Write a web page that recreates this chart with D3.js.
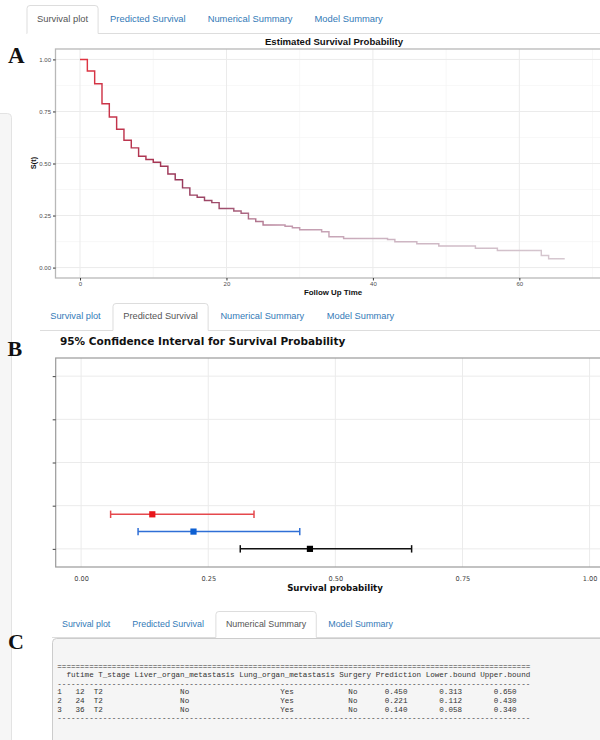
<!DOCTYPE html>
<html>
<head>
<meta charset="utf-8">
<script src="https://cdn.jsdelivr.net/npm/d3@7"></script>
<style>
body { margin: 0; background: #fff; }
svg { display: block; }
</style>
</head>
<body>
<svg id="fig" width="600" height="740"></svg>
<script>
// Kaplan-Meier steps
var kmTime = [0, 1, 2, 3, 4, 5, 6, 7, 8, 9, 10, 11, 12, 13, 14, 15, 16, 17, 18, 19, 21, 22, 23, 24, 25, 28, 29, 30, 33, 34, 36, 42, 43, 46, 49, 54, 57, 63, 64];
var kmSurv = [1.000, 0.944, 0.883, 0.787, 0.723, 0.665, 0.612, 0.575, 0.535, 0.519, 0.506, 0.487, 0.450, 0.422, 0.383, 0.348, 0.338, 0.322, 0.312, 0.284, 0.272, 0.261, 0.234, 0.221, 0.205, 0.199, 0.191, 0.182, 0.172, 0.148, 0.140, 0.135, 0.124, 0.115, 0.104, 0.093, 0.082, 0.058, 0.042];
var kmEnd = 66.2;
var kmXTicks = [0, 20, 40, 60];
var kmYTicks = [0, 0.25, 0.5, 0.75, 1];

// predictions (panel B and C)
var futime = [12, 24, 36];
var tStage = ["T2", "T2", "T2"];
var liverMet = ["No", "No", "No"];
var lungMet = ["Yes", "Yes", "Yes"];
var surgery = ["No", "No", "No"];
var prediction = [0.450, 0.221, 0.140];
var lowerBound = [0.313, 0.112, 0.058];
var upperBound = [0.650, 0.430, 0.340];
var ciXTicks = [0, 0.25, 0.5, 0.75, 1];
var ciYTicks = [1, 2, 3, 4, 5];

var tabNames = ["Survival plot", "Predicted Survival", "Numerical Summary", "Model Summary"];
var tableCols = ["futime", "T_stage", "Liver_organ_metastasis", "Lung_organ_metastasis", "Surgery", "Prediction", "Lower.bound", "Upper.bound"];

var ciLine = ["#111111", "#2f6fd6", "#e5484d"];
var ciFill = ["#000000", "#0d5fd2", "#e8161b"];

var SANS = "Liberation Sans, Arial, Helvetica, sans-serif";
var DEJA = "DejaVu Sans, Verdana, sans-serif";

var svg = d3.select("#fig");
svg.append("rect").attr("width", 600).attr("height", 740).attr("fill", "#fff");

// left sidebar well
svg.append("rect")
    .attr("x", -6).attr("y", 113.5).attr("width", 17.5).attr("height", 660).attr("rx", 4)
    .attr("fill", "#f6f6f6").attr("stroke", "#e3e3e3");

function drawTabs(cfg) {
    var g = svg.append("g");
    var lineG = g.append("g");
    var x = cfg.left, tabs = [];
    tabNames.forEach(function(name, i) {
        var t = g.append("text").text(name)
            .attr("font-family", SANS).attr("font-size", cfg.size)
            .attr("x", x + cfg.pad).attr("y", cfg.baseline)
            .attr("fill", i == cfg.active ? "#555" : "#337ab7");
        var w = t.node().getComputedTextLength();
        tabs.push({x0: x, x1: x + w + 2 * cfg.pad});
        x += w + 2 * cfg.pad + 2;
    });
    var a = tabs[cfg.active], b = cfg.bottom + 0.5, t = cfg.top + 0.5, r = 3;
    lineG.append("line").attr("x1", cfg.left).attr("x2", 600).attr("y1", b).attr("y2", b)
        .attr("stroke", "#dddddd");
    lineG.append("path")
        .attr("d", "M" + a.x0 + "," + (b + 0.5) + "V" + (t + r) + "Q" + a.x0 + "," + t + " " + (a.x0 + r) + "," + t +
            "H" + (a.x1 - r) + "Q" + a.x1 + "," + t + " " + a.x1 + "," + (t + r) + "V" + (b + 0.5))
        .attr("fill", "#fff").attr("stroke", "#dddddd");
    lineG.append("line").attr("x1", a.x0 + 0.5).attr("x2", a.x1 - 0.5).attr("y1", b).attr("y2", b)
        .attr("stroke", "#fff").attr("stroke-width", 1.2);
}

function panelLabel(txt, x, y, size) {
    svg.append("text").text(txt).attr("x", x).attr("y", y)
        .attr("font-family", "Liberation Serif, Times New Roman, serif")
        .attr("font-weight", "bold").attr("font-size", size).attr("fill", "#111");
}

// ---------------- panel A ----------------
drawTabs({left: 27, top: 5, bottom: 33, baseline: 22, size: 9.4, pad: 10, active: 0});
panelLabel("A", 8, 63, 23);

var kmX = d3.scaleLinear().domain([-3.35, 71.7]).range([55.5, 605]);
var kmY = d3.scaleLinear().domain([-0.05, 1.05]).range([278, 49]);

var defs = svg.append("defs");
defs.append("clipPath").attr("id", "clipA").append("rect")
    .attr("x", 55.5).attr("y", 49).attr("width", 550).attr("height", 229);

var grad = defs.append("linearGradient").attr("id", "kmGrad")
    .attr("gradientUnits", "userSpaceOnUse")
    .attr("x1", kmX(0)).attr("x2", kmX(kmEnd)).attr("y1", 0).attr("y2", 0);
[[0, "#e3343f"], [0.06, "#c8344a"], [0.2, "#98385a"], [0.3, "#a0506e"], [0.42, "#c196ab"], [0.6, "#ccb2c0"], [1, "#d6c8d0"]]
    .forEach(function(s) { grad.append("stop").attr("offset", s[0]).attr("stop-color", s[1]); });

var gA = svg.append("g").attr("clip-path", "url(#clipA)");
gA.selectAll(".vminor").data([10, 30, 50, 70]).enter().append("line")
    .attr("x1", kmX).attr("x2", kmX).attr("y1", 49).attr("y2", 278)
    .attr("stroke", "#f2f2f2").attr("stroke-width", 0.6);
gA.selectAll(".hminor").data([0.125, 0.375, 0.625, 0.875]).enter().append("line")
    .attr("y1", kmY).attr("y2", kmY).attr("x1", 55).attr("x2", 605)
    .attr("stroke", "#f2f2f2").attr("stroke-width", 0.6);
gA.selectAll(".vmajor").data(kmXTicks).enter().append("line")
    .attr("x1", kmX).attr("x2", kmX).attr("y1", 49).attr("y2", 278)
    .attr("stroke", "#ebebeb").attr("stroke-width", 1);
gA.selectAll(".hmajor").data(kmYTicks).enter().append("line")
    .attr("y1", kmY).attr("y2", kmY).attr("x1", 55).attr("x2", 605)
    .attr("stroke", "#ebebeb").attr("stroke-width", 1);

var kmPts = kmTime.map(function(t, i) { return [t, kmSurv[i]]; });
kmPts.push([kmEnd, kmSurv[kmSurv.length - 1]]);
var stepLine = d3.line()
    .x(function(d) { return kmX(d[0]); })
    .y(function(d) { return kmY(d[1]); })
    .curve(d3.curveStepAfter);
gA.append("path").datum(kmPts).attr("d", stepLine)
    .attr("fill", "none").attr("stroke", "url(#kmGrad)").attr("stroke-width", 1.45);

svg.append("rect").attr("x", 55.5).attr("y", 49).attr("width", 560).attr("height", 229)
    .attr("fill", "none").attr("stroke", "#b8b8b8").attr("stroke-width", 1.3);

var axA = svg.append("g").attr("transform", "translate(55.5,0)")
    .call(d3.axisLeft(kmY).tickValues(kmYTicks).tickFormat(d3.format(".2f")).tickSize(2.5).tickPadding(2));
var axAx = svg.append("g").attr("transform", "translate(0,278)")
    .call(d3.axisBottom(kmX).tickValues(kmXTicks).tickSize(2.5).tickPadding(1.5));
[axA, axAx].forEach(function(ax) {
    ax.select(".domain").remove();
    ax.selectAll("line").attr("stroke", "#333");
    ax.selectAll("text").attr("font-family", SANS).attr("font-size", 6).attr("fill", "#4d4d4d");
});

svg.append("text").text("Estimated Survival Probability")
    .attr("x", 334).attr("y", 45).attr("text-anchor", "middle")
    .attr("font-family", SANS).attr("font-weight", "bold").attr("font-size", 9.6).attr("fill", "#111");
svg.append("text").text("Follow Up Time")
    .attr("x", 333).attr("y", 295).attr("text-anchor", "middle")
    .attr("font-family", SANS).attr("font-weight", "bold").attr("font-size", 7.9).attr("fill", "#111");
svg.append("text").text("S(t)")
    .attr("transform", "translate(35.5,163) rotate(-90)").attr("text-anchor", "middle")
    .attr("font-family", SANS).attr("font-weight", "bold").attr("font-size", 7.4).attr("fill", "#111");

// ---------------- panel B ----------------
drawTabs({left: 40, top: 303, bottom: 330, baseline: 318.5, size: 9.25, pad: 10.3, active: 1});
panelLabel("B", 7.5, 356, 22);

svg.append("text").text("95% Confidence Interval for Survival Probability")
    .attr("x", 60).attr("y", 345)
    .attr("font-family", DEJA).attr("font-weight", "bold").attr("font-size", 10.5).attr("fill", "#111");

var ciX = d3.scaleLinear().domain([-0.05, 1.05]).range([55.7, 615]);
var ciY = d3.scaleLinear().domain([0.58, 5.42]).range([567, 358]);

var gB = svg.append("g");
gB.selectAll(".vg").data(ciXTicks).enter().append("line")
    .attr("x1", ciX).attr("x2", ciX).attr("y1", 358).attr("y2", 567)
    .attr("stroke", "#ebebeb");
gB.selectAll(".hg").data(ciYTicks).enter().append("line")
    .attr("y1", ciY).attr("y2", ciY).attr("x1", 55.7).attr("x2", 600)
    .attr("stroke", "#ebebeb");

var rows = prediction.map(function(p, i) {
    return {pred: p, lo: lowerBound[i], hi: upperBound[i], row: 1 + i * 0.4, i: i};
});
var bars = gB.selectAll(".ci").data(rows).enter().append("g");
bars.append("line")
    .attr("x1", function(d) { return ciX(d.lo); }).attr("x2", function(d) { return ciX(d.hi); })
    .attr("y1", function(d) { return ciY(d.row); }).attr("y2", function(d) { return ciY(d.row); })
    .attr("stroke", function(d) { return ciLine[d.i]; }).attr("stroke-width", 1.5);
["lo", "hi"].forEach(function(k) {
    bars.append("line")
        .attr("x1", function(d) { return ciX(d[k]); }).attr("x2", function(d) { return ciX(d[k]); })
        .attr("y1", function(d) { return ciY(d.row) - 3.7; }).attr("y2", function(d) { return ciY(d.row) + 3.7; })
        .attr("stroke", function(d) { return ciLine[d.i]; }).attr("stroke-width", 1.5);
});
bars.append("rect")
    .attr("x", function(d) { return ciX(d.pred) - 3.1; }).attr("y", function(d) { return ciY(d.row) - 3.1; })
    .attr("width", 6.2).attr("height", 6.2)
    .attr("fill", function(d) { return ciFill[d.i]; });

svg.append("rect").attr("x", 55.7).attr("y", 358).attr("width", 560).attr("height", 209)
    .attr("fill", "none").attr("stroke", "#9a9a9a").attr("stroke-width", 1.2);

var axB = svg.append("g").attr("transform", "translate(55.7,0)")
    .call(d3.axisLeft(ciY).tickValues(ciYTicks).tickFormat("").tickSize(3));
var axBx = svg.append("g").attr("transform", "translate(0,567)")
    .call(d3.axisBottom(ciX).tickValues(ciXTicks).tickFormat(d3.format(".2f")).tickSize(0).tickPadding(9));
[axB, axBx].forEach(function(ax) {
    ax.select(".domain").remove();
    ax.selectAll("line").attr("stroke", "#444");
    ax.selectAll("text").attr("font-family", DEJA).attr("font-size", 6.6).attr("fill", "#444");
});

svg.append("text").text("Survival probability")
    .attr("x", 335).attr("y", 591).attr("text-anchor", "middle")
    .attr("font-family", DEJA).attr("font-weight", "bold").attr("font-size", 8.65).attr("fill", "#111");

// ---------------- panel C ----------------
drawTabs({left: 52, top: 611, bottom: 637, baseline: 627, size: 8.9, pad: 10, active: 2});
panelLabel("C", 8, 649, 22);

svg.append("rect").attr("x", 52.5).attr("y", 638.5).attr("width", 570).attr("height", 130).attr("rx", 4)
    .attr("fill", "#f5f5f5").attr("stroke", "#cccccc");

// text table, columns centred as in the printout; T_stage values sit further left
var colW = [1].concat(tableCols.map(function(c) { return c.length; }));
var colStart = [];
colW.reduce(function(acc, w) { colStart.push(acc); return acc + w + 1; }, 0);
var cellShift = [0, 0, -3, 0, 0, 0, 0, 0, 0];
var lineLen = colStart[colStart.length - 1] + colW[colW.length - 1];
function fmtRow(cells, shift) {
    var out = " ".repeat(lineLen).split("");
    cells.forEach(function(c, j) {
        var s = String(c);
        var p = colStart[j] + Math.floor((colW[j] - s.length) / 2) + (shift ? shift[j] : 0);
        for (var k = 0; k < s.length; k++) out[p + k] = s[k];
    });
    return out.join("");
}
var header = fmtRow([""].concat(tableCols));
var lines = ["=".repeat(lineLen), header, "-".repeat(lineLen)];
futime.forEach(function(f, i) {
    lines.push(fmtRow([i + 1, f, tStage[i], liverMet[i], lungMet[i], surgery[i],
        prediction[i].toFixed(3), lowerBound[i].toFixed(3), upperBound[i].toFixed(3)], cellShift));
});
lines.push("-".repeat(lineLen));

svg.selectAll(".pre").data(lines).enter().append("text")
    .text(function(d) { return d; })
    .attr("x", 57.3).attr("y", function(d, i) { return 668.5 + i * 8.6; })
    .style("white-space", "pre")
    .attr("font-family", "Liberation Mono, DejaVu Sans Mono, monospace")
    .attr("font-size", 7.58).attr("fill", "#333");
</script>
</body>
</html>
